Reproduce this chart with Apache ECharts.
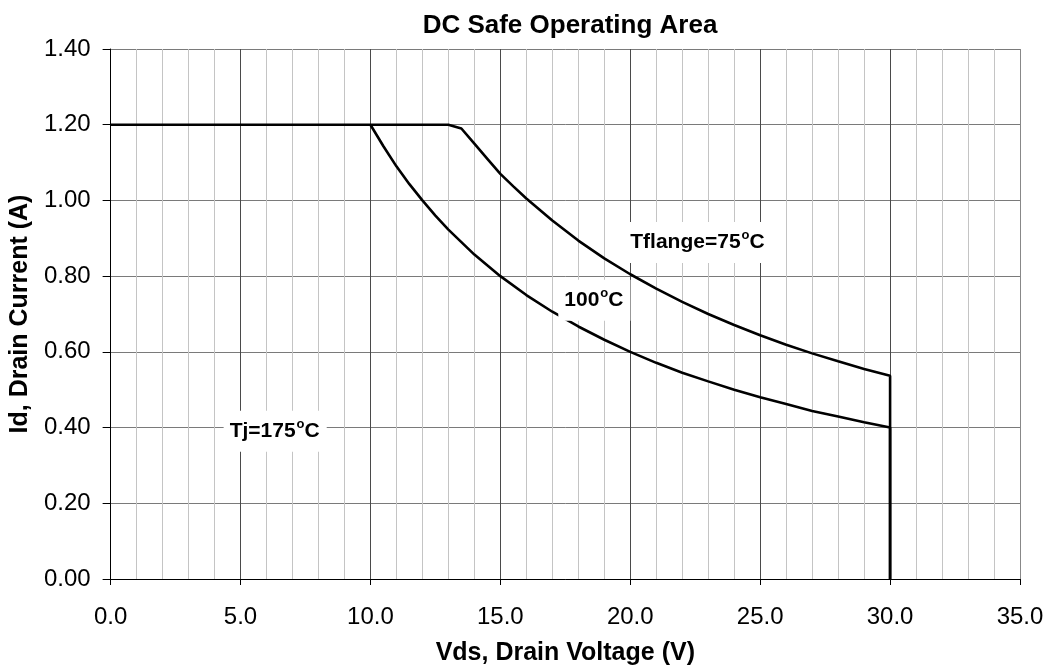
<!DOCTYPE html>
<html><head><meta charset="utf-8">
<script src="https://cdn.jsdelivr.net/npm/echarts@6/dist/echarts.min.js"></script>
<style>html,body{margin:0;padding:0;background:#fff}#c{width:1051px;height:672px}</style>
</head><body><div id="c"></div>
<script>
// Tj=175°C / Tflange=75°C curve (V, A)
const vds75 = [0, 13.0, 13.5, 14, 14.5, 15, 15.5, 16, 17, 18, 19, 20, 21, 22, 23, 24, 25, 26, 27, 28, 29, 30, 30];
const id75  = [1.2, 1.2, 1.19, 1.15, 1.11, 1.07, 1.037, 1.005, 0.947, 0.894, 0.847, 0.805, 0.767, 0.732, 0.700, 0.671, 0.644, 0.619, 0.596, 0.575, 0.555, 0.537, 0];
// 100°C curve
const vds100 = [10, 10.5, 11, 11.5, 12, 12.5, 13, 14, 15, 16, 17, 18, 19, 20, 21, 22, 23, 24, 25, 26, 27, 28, 29, 30, 30];
const id100  = [1.2, 1.143, 1.09, 1.043, 1.0, 0.96, 0.923, 0.857, 0.8, 0.75, 0.706, 0.667, 0.632, 0.6, 0.571, 0.545, 0.522, 0.5, 0.48, 0.462, 0.444, 0.429, 0.414, 0.40, 0];
// annotation text and anchor (data units)
const noteText = ['Tflange=75', '100', 'Tj=175'];
const noteX = [19.77, 17.23, 4.35];
const noteY = [0.889, 0.736, 0.39];
const xTicks = [0, 35, 5];
const yTicks = [0, 1.4, 0.2];

const zip = (a, b) => a.map((v, i) => [v, b[i]]);
const font = 'Liberation Sans, Arial, sans-serif';
const chart = echarts.init(document.getElementById('c'), null, {renderer: 'canvas'});
const majorColors = ['#4a4a4a','#4a4a4a','#4a4a4a','#4a4a4a','#4a4a4a','#4a4a4a','#4a4a4a','#888'];
chart.setOption({
  animation: false,
  backgroundColor: '#fff',
  title: {text: 'DC Safe Operating Area', left: 565, textAlign: 'center', top: 8,
    textStyle: {fontFamily: font, fontSize: 26, fontWeight: 'bold', color: '#000'}},
  grid: {left: 110, right: 31, top: 49, bottom: 93},
  xAxis: {
    type: 'value', min: xTicks[0], max: xTicks[1], interval: xTicks[2],
    name: 'Vds, Drain Voltage (V)', nameLocation: 'middle', nameGap: 62,
    nameTextStyle: {fontFamily: font, fontSize: 25, fontWeight: 'bold', color: '#000'},
    axisLine: {lineStyle: {color: '#000', width: 1}},
    axisTick: {show: true, length: 6, lineStyle: {color: '#000'}},
    axisLabel: {margin: 26, fontFamily: font, fontSize: 24, color: '#000', formatter: v => v.toFixed(1)},
    splitLine: {show: true, lineStyle: {color: majorColors, width: 1}},
    minorTick: {show: false, splitNumber: 5},
    minorSplitLine: {show: true, lineStyle: {color: '#c4c4c4', width: 1}}
  },
  yAxis: {
    type: 'value', min: yTicks[0], max: yTicks[1], interval: yTicks[2],
    name: 'Id, Drain Current (A)', nameLocation: 'middle', nameGap: 76,
    nameTextStyle: {fontFamily: font, fontSize: 25, fontWeight: 'bold', color: '#000'},
    axisLine: {show: true, lineStyle: {color: '#000', width: 1}},
    axisTick: {show: true, length: 8, lineStyle: {color: '#000'}},
    axisLabel: {margin: 20, fontFamily: font, fontSize: 24, color: '#000', formatter: v => v.toFixed(2)},
    splitLine: {show: true, lineStyle: {color: '#7a7a7a', width: 1}}
  },
  series: [
    {type: 'line', data: zip(vds75, id75), symbol: 'none', lineStyle: {color: '#000', width: 2.6}, z: 3},
    {type: 'line', data: zip(vds100, id100), symbol: 'none', lineStyle: {color: '#000', width: 2.6}, z: 3},
    {type: 'scatter', symbolSize: 0, z: 5, itemStyle: {opacity: 1},
     emphasis: {disabled: true},
     data: noteText.map((t, i) => ({value: [noteX[i], noteY[i]], name: t})),
     label: {show: true, position: 'right', distance: 0,
       backgroundColor: '#fff', padding: [7, 7, 7, 6],
       formatter: p => '{m|' + p.name + '}{s|o}{m|C}',
       rich: {
         m: {fontFamily: font, fontSize: 21, fontWeight: 'bold', color: '#000'},
         s: {fontFamily: font, fontSize: 13, fontWeight: 'bold', color: '#000', padding: [0, 0, 14, 1]}
       }}
    }
  ]
});
</script></body></html>
